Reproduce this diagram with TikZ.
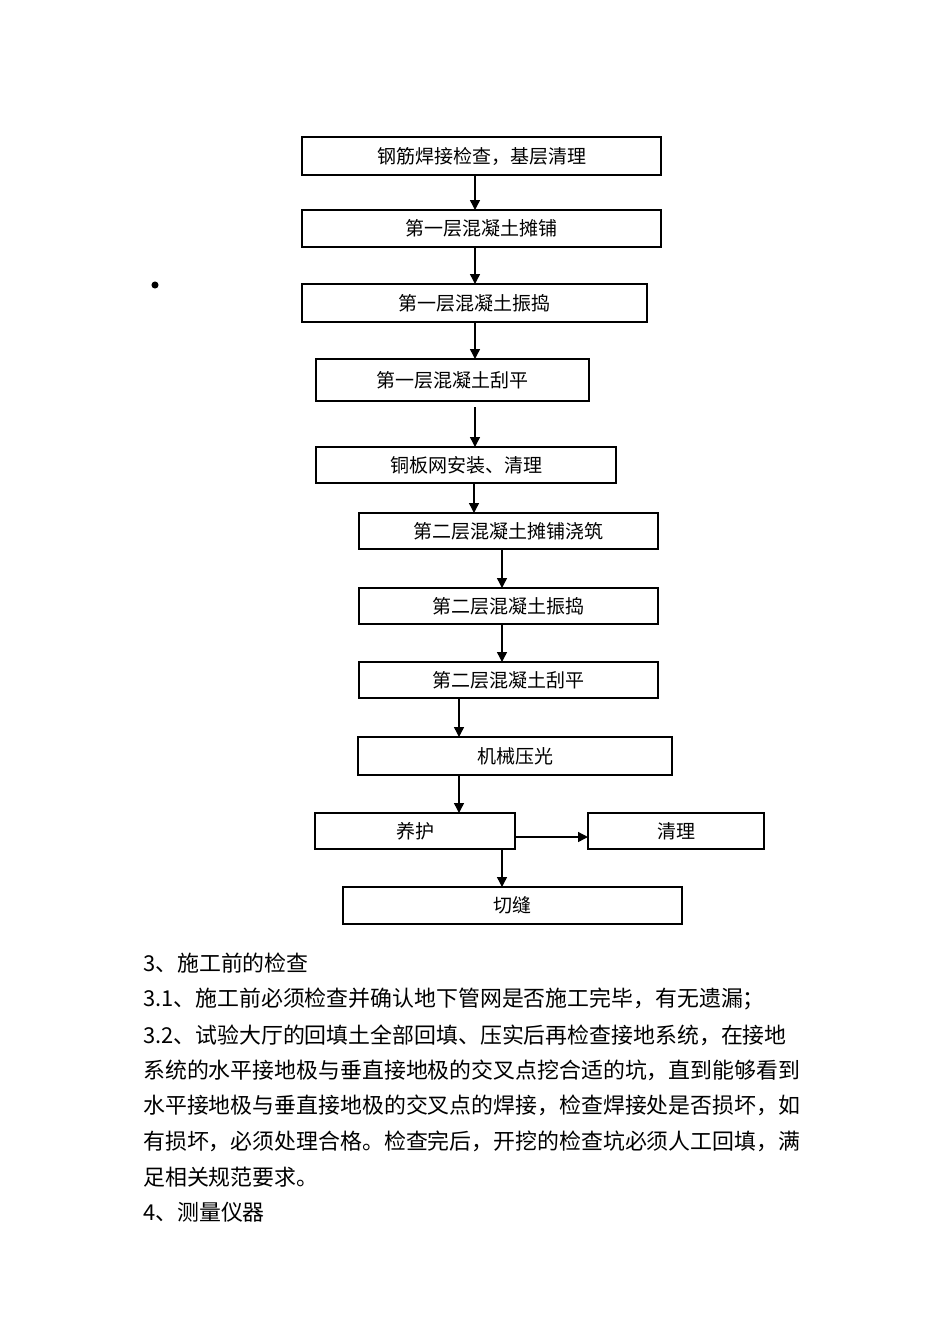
\documentclass[tikz,border=0pt]{standalone}
\usepackage{fontspec}
\setmainfont{Noto Sans CJK SC}
\usetikzlibrary{arrows.meta}

\begin{document}
\begin{tikzpicture}[
  x=1pt, y=-1pt,
  >={Triangle[length=10pt,width=10pt]},
  box/.style={draw=black, line width=1.4pt, inner sep=0pt, outer sep=0pt,
    font=\fontsize{19}{22}\selectfont},
  flow/.style={->, line width=1.4pt},
  para/.style={anchor=west, inner sep=0pt, font=\fontsize{21.9}{26}\selectfont}
]
\useasboundingbox (0,0) rectangle (950,1344);

% ==================== flow chart ====================
\node[box, minimum width=359pt, minimum height=38pt] (weld)   at (481.5,156)   {钢筋焊接检查，基层清理};
\node[box, minimum width=359pt, minimum height=37pt] (lay1)   at (481.5,228.5) {第一层混凝土摊铺};
\node[box, minimum width=345pt, minimum height=38pt] (vib1)   at (474.5,303)   {第一层混凝土振捣};
\node[box, minimum width=273pt, minimum height=42pt] (flat1)  at (452.5,380)   {第一层混凝土刮平};
\node[box, minimum width=300pt, minimum height=36pt] (mesh)   at (466,465)     {铜板网安装、清理};
\node[box, minimum width=299pt, minimum height=36pt] (lay2)   at (508.5,531)   {第二层混凝土摊铺浇筑};
\node[box, minimum width=299pt, minimum height=36pt] (vib2)   at (508.5,606)   {第二层混凝土振捣};
\node[box, minimum width=299pt, minimum height=36pt] (flat2)  at (508.5,680)   {第二层混凝土刮平};
\node[box, minimum width=314pt, minimum height=38pt] (trowel) at (515,756)     {机械压光};
\node[box, minimum width=200pt, minimum height=36pt] (cure)   at (415,831)     {养护};
\node[box, minimum width=176pt, minimum height=36pt] (clean)  at (676,831)     {清理};
\node[box, minimum width=339pt, minimum height=37pt] (cut)    at (512.5,905.5) {切缝};

% stray bullet left of the chart
\node[circle, fill=black, inner sep=2.5pt] (dot) at (155,285) {};

% arrows
\draw[flow] (weld.south -| 475,0) -- (lay1.north -| 475,0);
\draw[flow] (lay1.south -| 475,0) -- (vib1.north -| 475,0);
\draw[flow] (vib1.south -| 475,0) -- (flat1.north -| 475,0);
\draw[flow, shorten <=6pt] (flat1.south -| 475,0) -- (mesh.north -| 475,0);
\draw[flow] (mesh.south -| 474,0) -- (lay2.north -| 474,0);
\draw[flow] (lay2.south -| 502,0) -- (vib2.north -| 502,0);
\draw[flow] (vib2.south -| 502,0) -- (flat2.north -| 502,0);
\draw[flow] (flat2.south -| 459,0) -- (trowel.north -| 459,0);
\draw[flow] (trowel.south -| 459,0) -- (cure.north -| 459,0);
\draw[flow] (cure.east |- 0,837) -- (clean.west |- 0,837);
\draw[flow] (cure.south -| 502,0) -- (cut.north -| 502,0);

% ==================== text below ====================
\node[para] (h3)  at (143,963)  {3、施工前的检查};
\node[para] (t31) at (143,999)  {3.1、施工前必须检查并确认地下管网是否施工完毕，有无遗漏；};
\node[para] (t32) at (143,1035) {3.2、试验大厅的回填土全部回填、压实后再检查接地系统，在接地};
\node[para] (t32b) at (143,1070) {系统的水平接地极与垂直接地极的交叉点挖合适的坑，直到能够看到};
\node[para] (t32c) at (143,1105) {水平接地极与垂直接地极的交叉点的焊接，检查焊接处是否损坏，如};
\node[para] (t32d) at (143,1141) {有损坏，必须处理合格。检查完后，开挖的检查坑必须人工回填，满};
\node[para] (t32e) at (143,1177) {足相关规范要求。};
\node[para] (h4)  at (143,1212) {4、测量仪器};

\end{tikzpicture}
\end{document}
